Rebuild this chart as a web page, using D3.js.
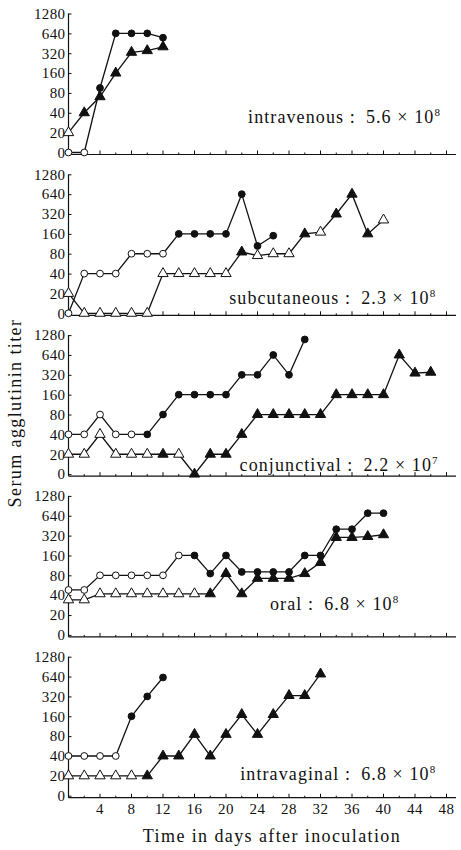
<!DOCTYPE html>
<html>
<head>
<meta charset="utf-8">
<script src="https://cdn.jsdelivr.net/npm/d3@7"></script>
<style>
  body { margin: 0; background: #fff; }
  svg text { font-family: "Liberation Serif", "DejaVu Serif", serif; fill: #111; }
</style>
</head>
<body>
<script>
// sampling days: every series starts at day 0, one value every 2 days
const yTicks = [0, 20, 40, 80, 160, 320, 640, 1280];
const xTicks = [4, 8, 12, 16, 20, 24, 28, 32, 36, 40, 44, 48];

const routes = ['intravenous', 'subcutaneous', 'conjunctival', 'oral', 'intravaginal'];
const doseMantissa = ['5.6', '2.3', '2.2', '6.8', '6.8'];
const doseExp = ['8', '8', '7', '8', '8'];

// circles / triangles, fill: 1 = solid marker, 0 = open marker
const ivCircle = [0, 0, 95, 640, 640, 640, 550];
const ivCircleFill = [0, 0, 1, 1, 1, 1, 1];
const ivTriangle = [20, 40, 70, 160, 330, 350, 400];
const ivTriangleFill = [0, 1, 1, 1, 1, 1, 1];

const scCircle = [0, 40, 40, 40, 80, 80, 80, 160, 160, 160, 160, 640, 105, 150];
const scCircleFill = [0, 0, 0, 0, 0, 0, 0, 1, 1, 1, 1, 1, 1, 1];
const scTriangle = [20, 0, 0, 0, 0, 0, 40, 40, 40, 40, 40, 85, 75, 80, 80, 160, 170, 320, 640, 160, 260];
const scTriangleFill = [0, 0, 0, 0, 0, 0, 0, 0, 0, 0, 0, 1, 0, 0, 0, 1, 0, 1, 1, 1, 0];

const cjCircle = [40, 40, 80, 40, 40, 40, 80, 160, 160, 160, 160, 320, 320, 640, 320, 1100];
const cjCircleFill = [0, 0, 0, 0, 0, 1, 1, 1, 1, 1, 1, 1, 1, 1, 1, 1];
const cjTriangle = [20, 20, 40, 20, 20, 20, 20, 20, 0, 20, 20, 40, 80, 80, 80, 80, 80, 160, 160, 160, 160, 640, 340, 350];
const cjTriangleFill = [0, 0, 0, 0, 0, 0, 1, 0, 1, 1, 1, 1, 1, 1, 1, 1, 1, 1, 1, 1, 1, 1, 1, 1];

const orCircle = [48, 48, 80, 80, 80, 80, 80, 160, 160, 85, 160, 90, 90, 90, 90, 160, 160, 400, 400, 700, 700];
const orCircleFill = [0, 0, 0, 0, 0, 0, 0, 0, 1, 1, 1, 1, 1, 1, 1, 1, 1, 1, 1, 1, 1];
const orTriangle = [34, 34, 42, 42, 42, 42, 42, 42, 42, 42, 85, 42, 72, 72, 72, 85, 125, 300, 300, 310, 330];
const orTriangleFill = [0, 0, 0, 0, 0, 0, 0, 0, 0, 1, 1, 1, 1, 1, 1, 1, 1, 1, 1, 1, 1];

const vgCircle = [40, 40, 40, 40, 160, 320, 620];
const vgCircleFill = [0, 0, 0, 0, 1, 1, 1];
const vgTriangle = [20, 20, 20, 20, 20, 20, 40, 40, 85, 40, 85, 170, 85, 170, 330, 330, 700];
const vgTriangleFill = [0, 0, 0, 0, 0, 1, 1, 1, 1, 1, 1, 1, 1, 1, 1, 1, 1];

const panels = [
  { circle: ivCircle, circleFill: ivCircleFill, tri: ivTriangle, triFill: ivTriangleFill },
  { circle: scCircle, circleFill: scCircleFill, tri: scTriangle, triFill: scTriangleFill },
  { circle: cjCircle, circleFill: cjCircleFill, tri: cjTriangle, triFill: cjTriangleFill },
  { circle: orCircle, circleFill: orCircleFill, tri: orTriangle, triFill: orTriangleFill },
  { circle: vgCircle, circleFill: vgCircleFill, tri: vgTriangle, triFill: vgTriangleFill }
];

// where the route label sits (end of text, in days / titer level)
const labelAt = [[47.3, 28], [46.7, 14], [47, 11], [42, 24], [46.7, 17]];

const width = 461, height = 850;
const svg = d3.select('body').append('svg')
  .attr('width', width)
  .attr('height', height);

const x = d3.scaleLinear().domain([0, 48]).range([68.5, 446.5]);
const panelTop = 13.5, panelStep = 160.8, panelH = 139;

const tri = d3.symbol().type(d3.symbolTriangle).size(46);

panels.forEach((p, i) => {
  const top = panelTop + i * panelStep;
  const y = d3.scaleLog().base(2).domain([10, 1280]).range([top + panelH, top]);
  const yv = (v) => y(Math.max(v, 10));
  const g = svg.append('g');
  const base = y(10) + 2;

  // axes
  g.append('line')
    .attr('x1', x(0)).attr('x2', 456)
    .attr('y1', base).attr('y2', base)
    .attr('stroke', '#111').attr('stroke-width', 1.2);
  g.append('line')
    .attr('x1', x(0)).attr('x2', x(0))
    .attr('y1', y(1280)).attr('y2', base)
    .attr('stroke', '#111').attr('stroke-width', 1.2);

  const minor = d3.range(2, 50, 2);
  g.selectAll('.xt').data(minor).enter().append('line')
    .attr('x1', (d) => x(d)).attr('x2', (d) => x(d))
    .attr('y1', base).attr('y2', (d) => base - (d % 4 === 0 ? 4 : 2))
    .attr('stroke', '#111').attr('stroke-width', 1);

  const yAxis = d3.axisLeft(y)
    .tickValues(yTicks.map((v) => Math.max(v, 10)))
    .tickFormat((v) => v === 10 ? '0' : v)
    .tickSize(-3)
    .tickSizeOuter(0)
    .tickPadding(3);
  const ya = g.append('g').attr('transform', `translate(${x(0)},0)`).call(yAxis);
  ya.select('.domain').remove();
  ya.selectAll('line').attr('stroke', '#111');
  ya.selectAll('text')
    .attr('font-family', null)
    .style('font-size', '15px')
    .style('letter-spacing', '0.4px');

  if (i === panels.length - 1) {
    g.selectAll('.xl').data(xTicks).enter().append('text')
      .attr('x', (d) => x(d))
      .attr('y', base + 16)
      .attr('text-anchor', 'middle')
      .style('font-size', '15px')
      .style('letter-spacing', '0.4px')
      .text((d) => d);
  }

  // series
  const line = d3.line()
    .x((d, k) => x(k * 2))
    .y((d) => yv(d));
  [p.circle, p.tri].forEach((s) => {
    g.append('path')
      .attr('d', line(s))
      .attr('fill', 'none')
      .attr('stroke', '#111')
      .attr('stroke-width', 1.3);
  });

  g.selectAll('.dot').data(p.circle).enter().append('circle')
    .attr('cx', (d, k) => x(k * 2))
    .attr('cy', (d) => yv(d))
    .attr('r', 3.4)
    .attr('fill', (d, k) => p.circleFill[k] ? '#111' : '#fff')
    .attr('stroke', '#111')
    .attr('stroke-width', 1);

  g.selectAll('.tri').data(p.tri).enter().append('path')
    .attr('d', tri)
    .attr('transform', (d, k) => `translate(${x(k * 2)},${yv(d)})`)
    .attr('fill', (d, k) => p.triFill[k] ? '#111' : '#fff')
    .attr('stroke', '#111')
    .attr('stroke-width', 1);

  // route label
  const la = labelAt[i];
  const t = g.append('text')
    .attr('x', x(la[0]))
    .attr('y', yv(la[1]))
    .attr('text-anchor', 'end')
    .style('font-size', '18px')
    .style('letter-spacing', '1.1px');
  t.append('tspan').text(routes[i] + ' :\u2002' + doseMantissa[i] + ' \u00d7 10');
  t.append('tspan')
    .attr('dy', -7)
    .style('font-size', '11px')
    .text(doseExp[i]);
});

svg.append('text')
  .attr('x', 272)
  .attr('y', 842)
  .attr('text-anchor', 'middle')
  .style('font-size', '18px')
  .style('letter-spacing', '1.4px')
  .text('Time in days after inoculation');

svg.append('text')
  .attr('transform', 'translate(21,413) rotate(-90)')
  .attr('text-anchor', 'middle')
  .style('font-size', '18px')
  .style('letter-spacing', '1.4px')
  .text('Serum agglutinin titer');
</script>
</body>
</html>
